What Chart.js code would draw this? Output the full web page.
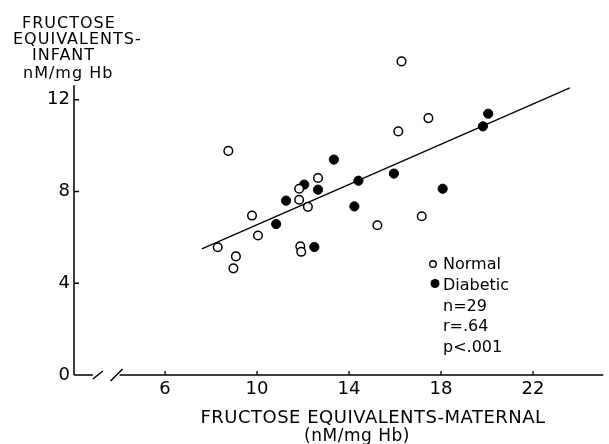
<!DOCTYPE html>
<html><head><meta charset="utf-8">
<script src="https://cdn.jsdelivr.net/npm/chart.js@4.4.0/dist/chart.umd.min.js"></script>
<style>html,body{margin:0;padding:0;background:#fff;}#wrap{width:609px;height:444px;}</style>
</head><body><div id="wrap"><canvas id="c" width="609" height="444"></canvas></div>
<script>
// ---- data ----
const normalX = [16.28, 16.14, 8.75, 17.45, 12.65, 11.83, 11.83, 12.21, 9.78, 10.04, 15.23, 17.16, 8.29, 11.88, 11.92, 9.08, 8.97];
const normalY = [13.67, 10.62, 9.77, 11.20, 8.59, 8.12, 7.64, 7.33, 6.95, 6.08, 6.53, 6.92, 5.57, 5.61, 5.37, 5.17, 4.65];
const diabeticX = [13.34, 14.41, 15.95, 12.05, 12.65, 11.26, 14.23, 10.83, 12.49, 20.05, 19.82, 18.07];
const diabeticY = [9.39, 8.47, 8.78, 8.30, 8.08, 7.60, 7.35, 6.58, 5.58, 11.39, 10.84, 8.12];
const fitX = [7.6, 23.6];
const fitY = [5.50, 12.52];
const xTicks = [6, 10, 14, 18, 22];
const yTicks = [0, 4, 8, 12];
const yTitleLines = ['FRUCTOSE', 'EQUIVALENTS-', 'INFANT', 'nM/mg Hb'];
const xTitleLines = ['FRUCTOSE EQUIVALENTS-MATERNAL', '(nM/mg Hb)'];
const legendLabels = ['Normal', 'Diabetic'];
const statLines = ['n=29', 'r=.64', 'p<.001'];
const xRange = [2.04, 25.05];
const yRange = [0, 13.95];
const yAxisTop = 12.63;
const xBreak = [2.86, 4.02];

const FAM = '"DejaVu Sans", sans-serif';
const WT = '400';
const toPts = (xs, ys) => xs.map((x, i) => ({x, y: ys[i]}));

const decor = {
  id: 'decor',
  afterDraw(chart) {
    const ctx = chart.ctx, xs = chart.scales.x, ys = chart.scales.y;
    const y0 = ys.getPixelForValue(0);
    ctx.save();
    ctx.strokeStyle = '#000'; ctx.fillStyle = '#000'; ctx.lineWidth = 1.5;
    // y axis (stops a little above the 12 tick)
    ctx.beginPath();
    ctx.moveTo(xs.left, y0); ctx.lineTo(xs.left, ys.getPixelForValue(yAxisTop));
    // x axis with break
    const xl = xs.left, xb1 = xs.getPixelForValue(xBreak[0]), xb2 = xs.getPixelForValue(xBreak[1]);
    ctx.moveTo(xl, y0); ctx.lineTo(xb1, y0);
    ctx.moveTo(xb2, y0); ctx.lineTo(xs.right, y0);
    const s1 = xb1 + 5, s2 = xb2 - 3;
    ctx.moveTo(s1 - 5, y0 + 4); ctx.lineTo(s1 + 5, y0 - 4);
    ctx.moveTo(s2 - 6, y0 + 6); ctx.lineTo(s2 + 6, y0 - 6);
    ctx.stroke();
    // inward tick marks
    ctx.lineWidth = 1.3;
    ctx.beginPath();
    xTicks.forEach(v => { const p = xs.getPixelForValue(v); ctx.moveTo(p, y0); ctx.lineTo(p, y0 - 4); });
    yTicks.filter(v => v > 0).forEach(v => { const p = ys.getPixelForValue(v); ctx.moveTo(xs.left, p); ctx.lineTo(xs.left + 5, p); });
    ctx.stroke();
    // y title
    if ('letterSpacing' in ctx) ctx.letterSpacing = '1px';
    ctx.font = WT + ' 16px ' + FAM;
    ctx.textAlign = 'left'; ctx.textBaseline = 'alphabetic';
    const yl = [22, 13, 32, 23], yb = [28, 44, 60, 78];
    yTitleLines.forEach((t, i) => ctx.fillText(t, yl[i], yb[i]));
    // x title
    ctx.textAlign = 'center';
    ctx.font = WT + ' 18px ' + FAM;
    if ('letterSpacing' in ctx) ctx.letterSpacing = '0.5px';
    ctx.fillText(xTitleLines[0], 373, 423);
    ctx.font = WT + ' 17px ' + FAM;
    ctx.fillText(xTitleLines[1], 357, 441);
    // legend / stats
    if ('letterSpacing' in ctx) ctx.letterSpacing = '0px';
    ctx.font = WT + ' 16px ' + FAM;
    ctx.textAlign = 'left';
    const lx = 443, lb = [269, 289.5, 310.5, 331, 352];
    ctx.lineWidth = 1.4;
    ctx.beginPath(); ctx.arc(lx - 10, lb[0] - 5, 3.3, 0, Math.PI * 2); ctx.stroke();
    ctx.beginPath(); ctx.arc(lx - 8, lb[1] - 6, 4.5, 0, Math.PI * 2); ctx.fill();
    legendLabels.forEach((t, i) => ctx.fillText(t, lx, lb[i]));
    statLines.forEach((t, i) => ctx.fillText(t, lx, lb[i + 2]));
    ctx.restore();
  }
};

new Chart(document.getElementById('c'), {
  type: 'scatter',
  data: {
    datasets: [
      {label: 'Normal', data: toPts(normalX, normalY), pointRadius: 4.3, pointBackgroundColor: '#fff', pointBorderColor: '#000', pointBorderWidth: 1.5, order: 1},
      {label: 'Diabetic', data: toPts(diabeticX, diabeticY), pointRadius: 4.6, pointBackgroundColor: '#000', pointBorderColor: '#000', pointBorderWidth: 1, order: 2},
      {label: 'fit', data: toPts(fitX, fitY), showLine: true, pointRadius: 0, borderColor: '#000', borderWidth: 1.3, order: 3}
    ]
  },
  options: {
    responsive: false, animation: false, devicePixelRatio: 1,
    layout: {padding: {top: 55, left: 0, right: 0, bottom: 0}},
    plugins: {legend: {display: false}, tooltip: {enabled: false}},
    scales: {
      x: {
        type: 'linear', min: xRange[0], max: xRange[1],
        afterBuildTicks: s => { s.ticks = xTicks.map(v => ({value: v})); },
        afterFit: s => { s.height = 69; },
        grid: {display: false, drawTicks: false},
        border: {display: false},
        ticks: {color: '#000', font: {family: FAM, size: 18, weight: WT}, padding: 4, maxRotation: 0, autoSkip: false}
      },
      y: {
        type: 'linear', min: yRange[0], max: yRange[1],
        afterBuildTicks: s => { s.ticks = yTicks.map(v => ({value: v})); },
        afterFit: s => { s.width = 74; },
        grid: {display: false, drawTicks: false},
        border: {display: false},
        ticks: {color: '#000', font: {family: FAM, size: 18, weight: WT}, padding: 4, autoSkip: false}
      }
    }
  },
  plugins: [decor]
});
</script></body></html>
